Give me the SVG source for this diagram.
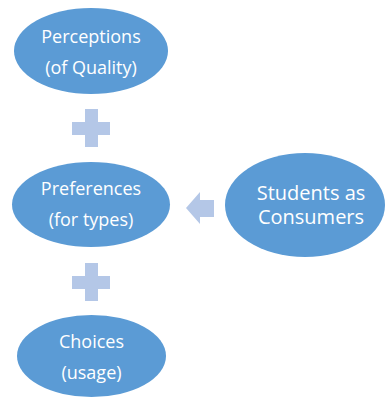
<svg xmlns="http://www.w3.org/2000/svg" width="388" height="398" viewBox="0 0 388 398">
<style>
.node{fill:#5B9BD5}
.t{fill:#FFFFFF;font-family:"Open Sans","Liberation Sans",sans-serif;text-anchor:middle}
.s{font-size:18px}
.l{font-size:20px}
.c{fill:#B4C7E7}
</style>
<rect width="388" height="398" fill="#FFFFFF"/>
<g id="connectors">
<path class="c" d="M85,109 H98 V122 H110 V135 H98 V147 H85 V135 H72 V122 H85 Z"/>
<path class="c" d="M85,263 H98 V276 H110 V289 H98 V301 H85 V289 H72 V276 H85 Z"/>
<path class="c" d="M186,208 L200,192 V200 H214 V217 H200 V224 Z"/>
</g>
<g id="perceptions">
<ellipse class="node" cx="91" cy="51" rx="77" ry="43"/>
<text class="t s" x="91" y="43">Perceptions</text>
<text class="t s" x="91" y="74">(of Quality)</text>
</g>
<g id="preferences">
<ellipse class="node" cx="91" cy="204.5" rx="79" ry="42.5"/>
<text class="t s" x="91" y="195">Preferences</text>
<text class="t s" x="91" y="226">(for types)</text>
</g>
<g id="students">
<ellipse class="node" cx="305" cy="205" rx="80" ry="52"/>
<text class="t l" x="311" y="200">Students as</text>
<text class="t l" x="311" y="224">Consumers</text>
</g>
<g id="choices">
<ellipse class="node" cx="91.5" cy="356" rx="74.5" ry="41"/>
<text class="t s" x="91.5" y="348">Choices</text>
<text class="t s" x="91.5" y="379">(usage)</text>
</g>
</svg>
